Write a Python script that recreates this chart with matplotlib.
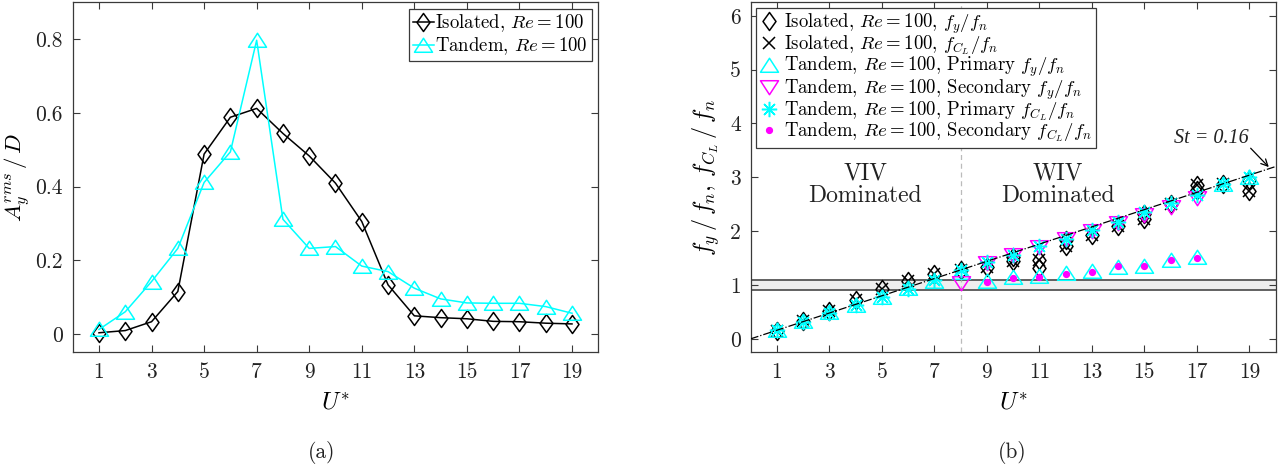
import numpy as np
import matplotlib
matplotlib.use("Agg")
import matplotlib.pyplot as plt
from matplotlib.path import Path

# ---------------- data ----------------
U = list(range(1, 20))

# (a) rms amplitude
iso_amp = [0.003, 0.009, 0.033, 0.115, 0.488, 0.588, 0.612, 0.544, 0.483, 0.409,
           0.305, 0.133, 0.049, 0.044, 0.041, 0.034, 0.033, 0.029, 0.027]
tan_amp = [0.012, 0.060, 0.142, 0.232, 0.411, 0.494, 0.797, 0.311, 0.232, 0.237,
           0.184, 0.169, 0.124, 0.095, 0.084, 0.083, 0.083, 0.074, 0.056]

# (b) frequencies
nan = np.nan
iso_fy = [0.15, 0.33, 0.52, 0.72, 0.93, 1.07, 1.20, 1.28, 1.33, 1.44,
          1.47, 1.72, 1.92, 2.10, 2.22, 2.50, 2.86, 2.87, 2.74]
iso_fy2 = [nan, nan, nan, nan, nan, nan, nan, nan, nan, 1.52,
           1.32, 1.84, nan, nan, 2.32, nan, 2.76, nan, 2.95]
iso_fcl = [0.15, 0.33, 0.52, 0.72, 0.93, 1.07, 1.20, 1.28, 1.33, 1.44,
           1.47, 1.72, 1.92, 2.10, 2.22, 2.50, 2.86, 2.87, 2.74]
tan_fy_pri = [0.17, 0.33, 0.49, 0.63, 0.78, 0.94, 1.08, 1.25, 1.08, 1.15,
              1.17, 1.22, 1.26, 1.33, 1.35, 1.47, 1.52, 2.87, 3.00]
tan_fy_sec = [nan, nan, nan, nan, nan, nan, nan, 1.03, 1.40, 1.55,
              1.70, 1.86, 2.00, 2.16, 2.30, 2.45, 2.62, nan, nan]
tan_fcl_pri = [0.16, 0.32, 0.48, 0.63, 0.78, 0.93, 1.10, 1.27, 1.42, 1.56,
               1.72, 1.86, 2.02, 2.17, 2.36, 2.52, 2.68, 2.87, 3.00]
tan_fcl_sec = [nan, nan, nan, nan, nan, nan, nan, nan, 1.06, 1.13,
               1.15, 1.20, 1.25, 1.35, 1.35, 1.47, 1.50, nan, nan]
St = 0.16
x_ticks = [1, 3, 5, 7, 9, 11, 13, 15, 17, 19]

# ---------------- style ----------------
plt.rcParams['mathtext.fontset'] = 'cm'
plt.rcParams['font.family'] = ['cmr10', 'DejaVu Serif']
plt.rcParams['axes.formatter.use_mathtext'] = True
plt.rcParams['axes.unicode_minus'] = False
AX_COL = '#3a3a3a'
TXT = '#222222'
CYAN = '#00FFFF'
MAG = '#FF00FF'
FS = 15.5
LFS = 13.5

diamond = Path([(0, 1), (0.72, 0), (0, -1), (-0.72, 0), (0, 1)],
               [Path.MOVETO, Path.LINETO, Path.LINETO, Path.LINETO, Path.CLOSEPOLY])
tri_up = Path([(0, 0.8), (1, -0.75), (-1, -0.75), (0, 0.8)],
              [Path.MOVETO, Path.LINETO, Path.LINETO, Path.CLOSEPOLY])
tri_dn = Path([(0, -0.8), (1, 0.75), (-1, 0.75), (0, -0.8)],
              [Path.MOVETO, Path.LINETO, Path.LINETO, Path.CLOSEPOLY])

fig = plt.figure(figsize=(12.84, 4.65), dpi=100)
W, H = 1284, 465
axA = fig.add_axes([72.7 / W, 1 - 352.3 / H, (598.3 - 72.7) / W, 350 / H])
axB = fig.add_axes([750.7 / W, 1 - 352.3 / H, (1275.6 - 750.7) / W, 350 / H])


def style_axes(ax):
    for s in ax.spines.values():
        s.set_color(AX_COL)
        s.set_linewidth(0.9)
    ax.tick_params(direction='in', length=5, width=0.8, color=AX_COL,
                   top=True, right=True, labelsize=FS, labelcolor=TXT, pad=7)
    ax.set_xlim(0, 20)
    ax.set_xticks(x_ticks)
    ax.set_xticklabels([str(v) for v in x_ticks])


# ---------------- (a) ----------------
style_axes(axA)
axA.plot(U, iso_amp, color='black', lw=1.1, marker=diamond, ms=13, mfc='none',
         mec='black', mew=1.1, label=r'Isolated, $Re=100$')
axA.plot(U, tan_amp, color=CYAN, lw=1.1, marker=tri_up, ms=13, mfc='none',
         mec=CYAN, mew=1.1, label=r'Tandem, $Re=100$')
axA.set_ylim(-0.05, 0.9)
axA.set_yticks([0, 0.2, 0.4, 0.6, 0.8])
axA.set_yticklabels(['0', '0.2', '0.4', '0.6', '0.8'])
axA.set_xlabel(r'$U^{*}$', fontsize=FS + 2, labelpad=8)
axA.set_ylabel(r'$A_y^{rms}\,/\,D$', fontsize=16.5, labelpad=2)
legA = axA.legend(loc='upper right', fontsize=LFS, frameon=True, fancybox=False,
                  edgecolor=AX_COL, framealpha=1, handlelength=1.1, handletextpad=0.1,
                  borderpad=0.2, labelspacing=0.05, borderaxespad=0.35)
legA.get_frame().set_linewidth(0.9)

# ---------------- (b) ----------------
style_axes(axB)
axB.set_ylim(-0.25, 6.25)
axB.set_yticks(range(0, 7))
axB.set_yticklabels([str(v) for v in range(0, 7)])
axB.axhspan(0.9, 1.1, facecolor='#eeeeee', edgecolor='none', zorder=0)
axB.axhline(0.9, color='#555555', lw=1.3, zorder=1)
axB.axhline(1.1, color='#555555', lw=1.3, zorder=1)
axB.axvline(8, color='#bbbbbb', lw=0.9, ls=(0, (4, 3)), zorder=1)
xs = np.array([0, 20])
axB.plot(xs, St * xs, color='black', lw=0.9, ls='-.', zorder=5)

ms = 13
axB.plot(U, iso_fy, ls='none', marker=diamond, ms=ms, mfc='none', mec='black', mew=1.1,
         label=r'Isolated, $Re=100$, $f_y/f_n$')
axB.plot(U, iso_fy2, ls='none', marker=diamond, ms=ms, mfc='none', mec='black', mew=1.1)
axB.plot(U, iso_fcl, ls='none', marker='x', ms=8, mec='black', mew=1.1,
         label=r'Isolated, $Re=100$, $f_{C_L}/f_n$')
axB.plot(U, tan_fy_pri, ls='none', marker=tri_up, ms=ms, mfc='none', mec=CYAN, mew=1.1,
         label=r'Tandem, $Re=100$, Primary $f_y/f_n$')
axB.plot(U, tan_fy_sec, ls='none', marker=tri_dn, ms=ms, mfc='none', mec=MAG, mew=1.1,
         label=r'Tandem, $Re=100$, Secondary $f_y/f_n$')
axB.plot(U, tan_fcl_pri, ls='none', marker=(8, 2, 0), ms=11, mec=CYAN, mew=1.1,
         label=r'Tandem, $Re=100$, Primary $f_{C_L}/f_n$')
axB.plot(U, tan_fcl_sec, ls='none', marker='o', ms=4.2, mfc=MAG, mec=MAG,
         label=r'Tandem, $Re=100$, Secondary $f_{C_L}/f_n$')

axB.set_xlabel(r'$U^{*}$', fontsize=FS + 2, labelpad=8)
axB.set_ylabel(r'$f_y\,/\,f_n,\,f_{C_L}\,/\,f_n$', fontsize=FS + 2, labelpad=6)

axB.text(4.36, 2.86, 'VIV\nDominated', ha='center', va='center', fontsize=17,
         linespacing=1.05, color=TXT, zorder=2)
axB.text(11.69, 2.86, 'WIV\nDominated', ha='center', va='center', fontsize=17,
         linespacing=1.05, color=TXT, zorder=2)
axB.text(17.55, 3.72, 'St = 0.16', fontsize=14.5, family='Liberation Serif',
         style='italic', color=TXT, ha='center', va='center')
axB.annotate('', xy=(19.74, 3.19), xytext=(19.05, 3.54),
             arrowprops=dict(arrowstyle='->', color='black', lw=0.9,
                             shrinkA=0, shrinkB=0, mutation_scale=12))

legB = axB.legend(loc='upper left', fontsize=LFS, frameon=True, fancybox=False,
                  edgecolor=AX_COL, framealpha=1, handlelength=1.0, handletextpad=0.3,
                  borderpad=0.2, labelspacing=-0.12, borderaxespad=0.3)
legB.get_frame().set_linewidth(0.9)
legB.set_zorder(10)

fig.text(322 / W, 1 - 452 / H, '(a)', ha='center', va='center', fontsize=FS, color=TXT)
fig.text(1012 / W, 1 - 452 / H, '(b)', ha='center', va='center', fontsize=FS, color=TXT)

fig.savefig('out.png', dpi=100)
